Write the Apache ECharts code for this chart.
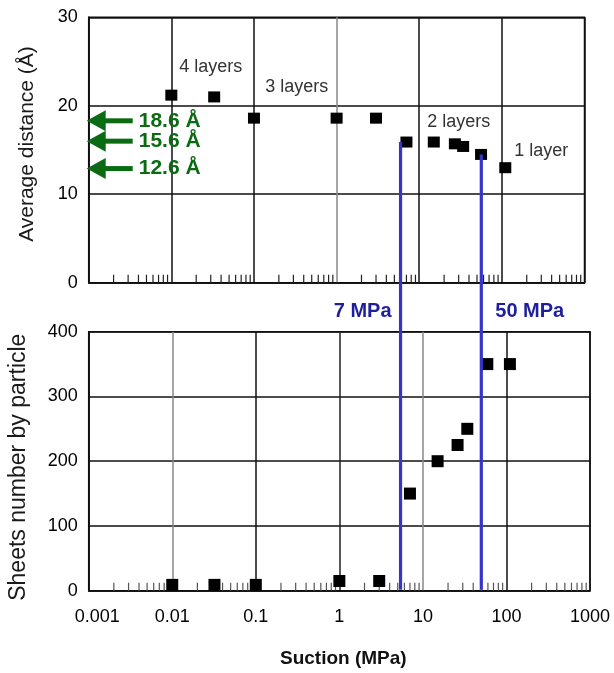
<!DOCTYPE html>
<html><head><meta charset="utf-8">
<script src="https://cdn.jsdelivr.net/npm/echarts@6/dist/echarts.min.js"></script>
<style>html,body{margin:0;padding:0;background:#fff}#c{width:614px;height:673px}</style>
</head><body><div id="c"></div><script>
// ---- data ----
const suctionTop = [0.01, 0.033, 0.1, 1, 3, 7, 15, 27, 34, 56, 110];
const distance   = [21.2, 21.0, 18.6, 18.6, 18.6, 15.9, 15.9, 15.7, 15.4, 14.5, 13.0];
const suctionBottom = [0.01, 0.032, 0.1, 1, 3, 7, 15, 26, 34, 59, 110];
const sheets        = [9, 9, 9, 15, 15, 150, 200, 225, 250, 350, 350];
const layerLabels = ['4 layers', '3 layers', '2 layers', '1 layer'];
const layerLabelSuction = [0.030, 0.33, 30, 300];
const layerLabelDistance = [24.4, 22.1, 18.2, 14.9];
const arrowLabels = ['18.6 Å', '15.6 Å', '12.6 Å'];
const arrowDistance = [18.3, 16.0, 12.9];
const thresholdLabels = ['7 MPa', '50 MPa'];
const thresholdSuction = [5.4, 50];
const thresholdTopDistance = [15.9, 14.5];
const xTickValues = [0.001, 0.01, 0.1, 1, 10, 100, 1000];
const yTopTicks = [0, 10, 20, 30];
const yBottomTicks = [0, 100, 200, 300, 400];
const minorMultipliers = [2, 3, 4, 5, 6, 7, 8, 9];

const minorTicks = [];
for (let i = 0; i < xTickValues.length - 1; i++) {
  for (const m of minorMultipliers) minorTicks.push([m * xTickValues[i], 0]);
}

const FONT = 'Liberation Sans';
const chart = echarts.init(document.getElementById('c'));

function fmt(v) {
  const e = Math.round(Math.log10(v));
  const s = e >= 0 ? String(Math.pow(10, e)) : Math.pow(10, e).toFixed(-e);
  return Math.abs(v - xTickValues[0]) < 1e-12 ? '{first|' + s + '}' : s;
}

function minorTickRender(color) {
  return function (params, api) {
    const p = api.coord([api.value(0), api.value(1)]);
    return { type: 'line', shape: { x1: p[0], y1: p[1], x2: p[0], y2: p[1] - 8 },
      style: { stroke: color, lineWidth: 1.2 } };
  };
}

const option = {
  animation: false,
  textStyle: { fontFamily: FONT },
  grid: [
    { left: 88.7, top: 17.3, width: 495.8, height: 265.4, show: true, borderColor: '#111', borderWidth: 1.5, outerBoundsMode: 'none' },
    { left: 88.7, top: 331.7, width: 501.3, height: 259, show: true, borderColor: '#111', borderWidth: 1.5, outerBoundsMode: 'none' }
  ],
  xAxis: [
    { type: 'log', gridIndex: 0, min: xTickValues[0], max: xTickValues[xTickValues.length - 1], logBase: 10, splitNumber: 6,
      axisLabel: { show: false }, axisTick: { show: false },
      axisLine: { show: true, lineStyle: { color: '#111', width: 1.5 } },
      splitLine: { show: true, lineStyle: { color: ['#111', '#111', '#111', '#888', '#111', '#111', '#111'], width: 1.5 } } },
    { type: 'log', gridIndex: 1, min: xTickValues[0], max: xTickValues[xTickValues.length - 1], logBase: 10, splitNumber: 6,
      axisLabel: { show: true, formatter: fmt, fontSize: 18, color: '#000', margin: 17, fontFamily: FONT,
        rich: { first: { fontSize: 18, color: '#000', fontFamily: FONT, padding: [0, 0, 0, 17] } } },
      axisTick: { show: false },
      axisLine: { show: true, lineStyle: { color: '#111', width: 1.5 } },
      splitLine: { show: true, lineStyle: { color: ['#111', '#888', '#111', '#222', '#888', '#111', '#111'], width: 1.5 } },
      name: 'Suction (MPa)', nameLocation: 'middle', nameGap: 59,
      nameTextStyle: { fontSize: 19, fontWeight: 'bold', color: '#111', fontFamily: FONT, padding: [0, 0, 0, 8] } }
  ],
  yAxis: [
    { type: 'value', gridIndex: 0, min: yTopTicks[0], max: yTopTicks[yTopTicks.length - 1], interval: 10,
      axisLabel: { fontSize: 18, color: '#000', margin: 11, fontFamily: FONT },
      axisTick: { show: false }, axisLine: { show: true, lineStyle: { color: '#111', width: 1.5 } },
      splitLine: { show: true, lineStyle: { color: '#111', width: 1.5 } },
      name: 'Average distance (Å)', nameLocation: 'middle', nameGap: 51,
      nameTextStyle: { fontSize: 21, color: '#1a1a1a', fontFamily: FONT, padding: [0, 0, 0, 12] } },
    { type: 'value', gridIndex: 1, min: yBottomTicks[0], max: yBottomTicks[yBottomTicks.length - 1], interval: 100,
      axisLabel: { fontSize: 18, color: '#000', margin: 11, fontFamily: FONT },
      axisTick: { show: false }, axisLine: { show: true, lineStyle: { color: '#111', width: 1.5 } },
      splitLine: { show: true, lineStyle: { color: '#111', width: 1.5 } },
      name: 'Sheets number by particle', nameLocation: 'middle', nameGap: 59,
      nameTextStyle: { fontSize: 23, color: '#1a1a1a', fontFamily: FONT, padding: [0, 12, 0, 0] } }
  ],
  series: [
    { type: 'custom', xAxisIndex: 0, yAxisIndex: 0, data: minorTicks, renderItem: minorTickRender('#222'), silent: true, z: 2 },
    { type: 'custom', xAxisIndex: 1, yAxisIndex: 1, data: minorTicks, renderItem: minorTickRender('#555'), silent: true, z: 2 },
    { type: 'scatter', xAxisIndex: 0, yAxisIndex: 0, symbol: 'rect', symbolSize: [12, 11],
      itemStyle: { color: '#000', opacity: 1 }, data: suctionTop.map((x, i) => [x, distance[i]]), z: 3 },
    { type: 'scatter', xAxisIndex: 1, yAxisIndex: 1, symbol: 'rect', symbolSize: 12,
      itemStyle: { color: '#000', opacity: 1 }, data: suctionBottom.map((x, i) => [x, sheets[i]]), z: 3 },
    { type: 'custom', xAxisIndex: 0, yAxisIndex: 0, z: 4, silent: true,
      data: layerLabels.map((t, i) => [layerLabelSuction[i], layerLabelDistance[i], t]),
      renderItem: function (params, api) {
        const p = api.coord([api.value(0), api.value(1)]);
        return { type: 'text', x: p[0], y: p[1],
          style: { text: layerLabels[params.dataIndex], align: 'center', verticalAlign: 'middle',
            fontSize: 18, fill: '#333', fontFamily: FONT } };
      } },
    { type: 'custom', xAxisIndex: 0, yAxisIndex: 0, z: 5, silent: true, clip: false,
      data: arrowDistance.map((v, i) => [xTickValues[0], v]),
      renderItem: function (params, api) {
        const p = api.coord([api.value(0), api.value(1)]);
        const x0 = p[0] - 2, y = p[1];
        const green = '#0b6b12';
        return { type: 'group', children: [
          { type: 'polygon', shape: { points: [[x0, y], [x0 + 19, y - 10.5], [x0 + 19, y + 10.5]] }, style: { fill: green } },
          { type: 'line', shape: { x1: x0 + 18, y1: y, x2: x0 + 46, y2: y }, style: { stroke: green, lineWidth: 5 } },
          { type: 'text', x: x0 + 52, y: y, style: { text: arrowLabels[params.dataIndex], align: 'left', verticalAlign: 'middle',
              fontSize: 21, fontWeight: 'bold', fill: green, fontFamily: FONT } }
        ] };
      } },
    { type: 'custom', xAxisIndex: 1, yAxisIndex: 1, z: 6, silent: true, clip: false,
      data: thresholdSuction.map((x, i) => [x, thresholdTopDistance[i]]),
      renderItem: function (params, api) {
        const x = api.value(0), yTop = api.value(1);
        const pB = api.coord([x, yBottomTicks[0]]);
        const pBTop = api.coord([x, yBottomTicks[yBottomTicks.length - 1]]);
        const pT = chart.convertToPixel({ xAxisIndex: 0, yAxisIndex: 0 }, [x, yTop]);
        const pT0 = chart.convertToPixel({ xAxisIndex: 0, yAxisIndex: 0 }, [x, yTopTicks[0]]);
        const midY = (pT0[1] + pBTop[1]) / 2 + 4;
        const left = params.dataIndex === 0;
        return { type: 'group', children: [
          { type: 'line', shape: { x1: pB[0], y1: pT[1], x2: pB[0], y2: pB[1] - 1 }, style: { stroke: '#3535cc', lineWidth: 3.2 } },
          { type: 'text', x: left ? pB[0] - 9 : pB[0] + 14, y: midY,
            style: { text: thresholdLabels[params.dataIndex], align: left ? 'right' : 'left', verticalAlign: 'middle',
              fontSize: 20, fontWeight: 'bold', fill: '#1f1f9e', fontFamily: FONT } }
        ] };
      } }
  ]
};
chart.setOption(option);
</script></body></html>
